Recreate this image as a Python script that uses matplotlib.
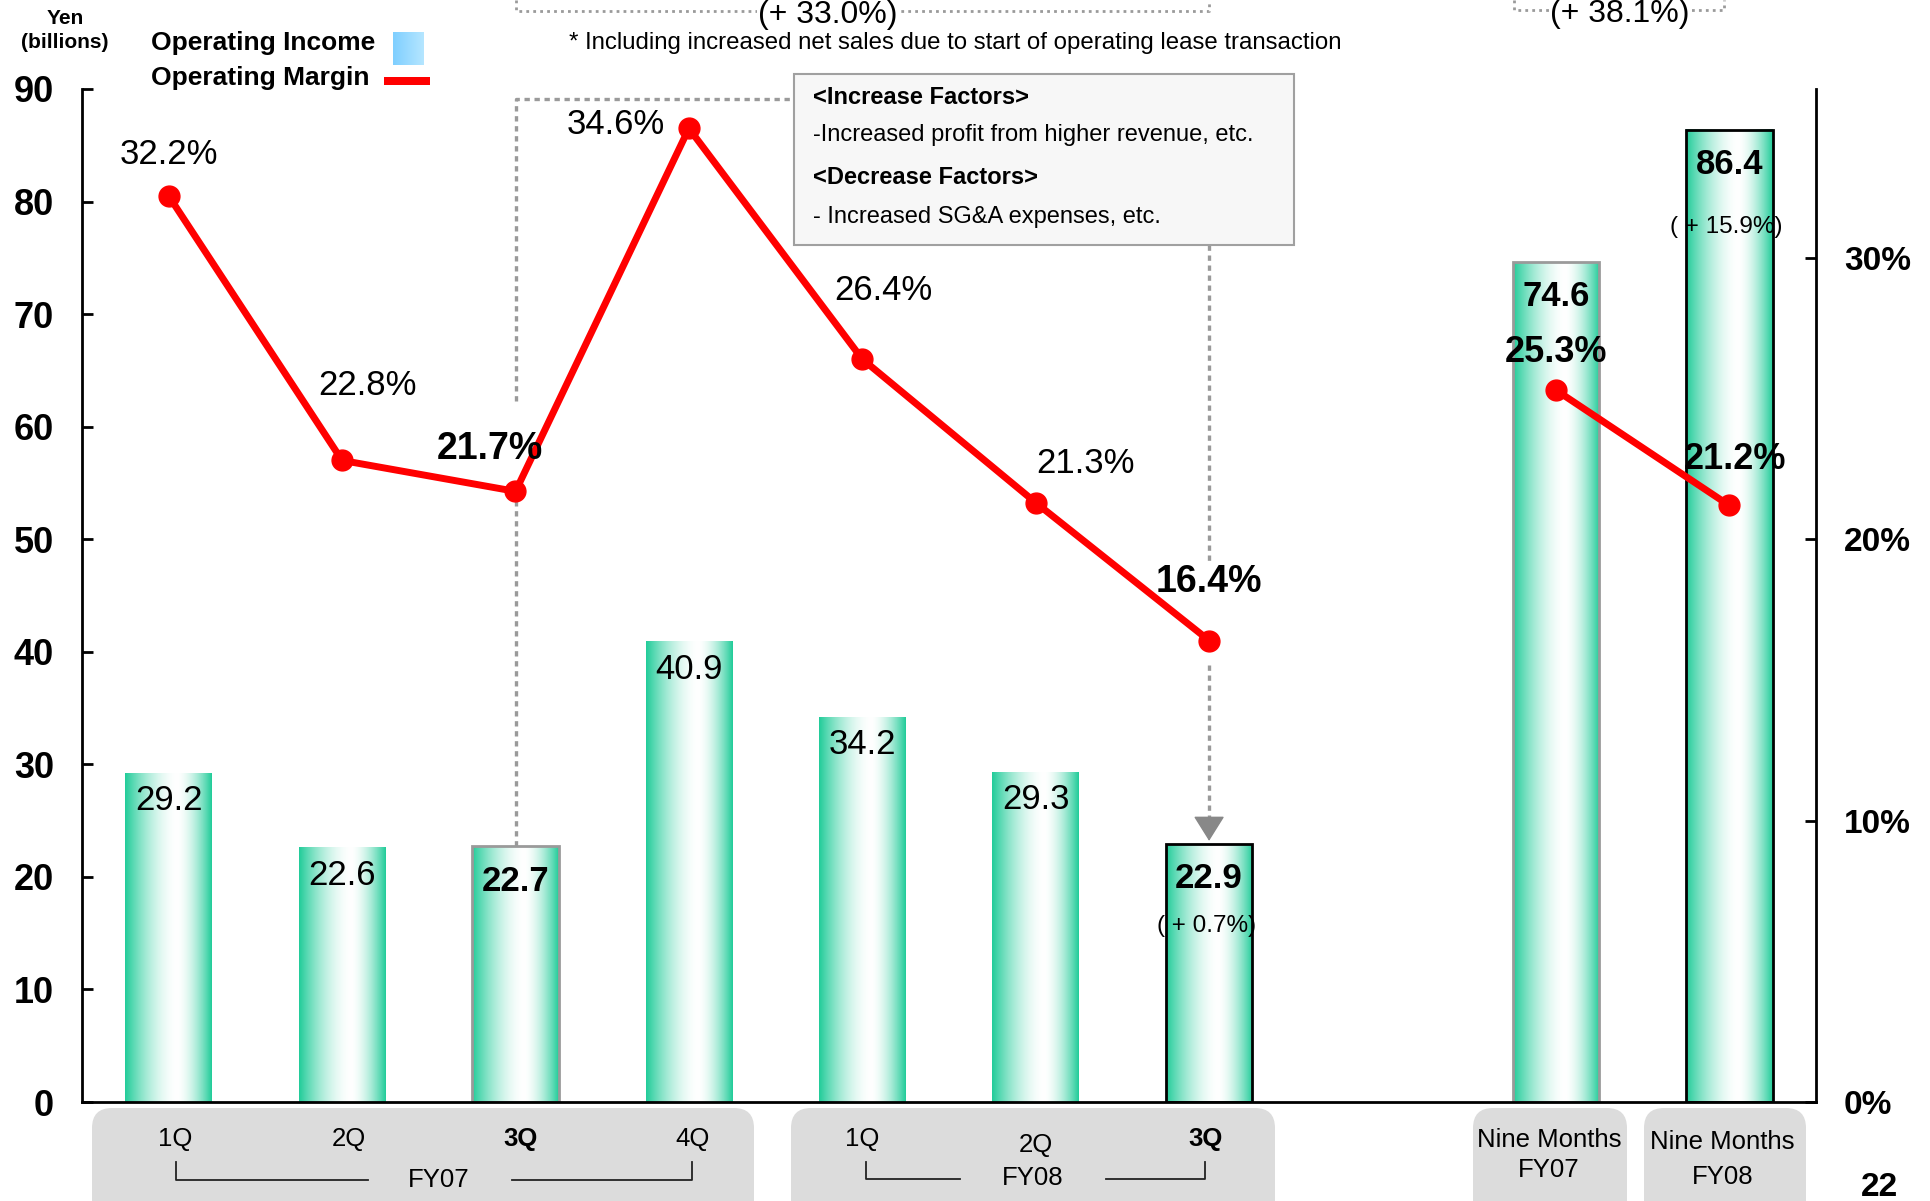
import numpy as np
import matplotlib.pyplot as plt
from matplotlib.patches import Rectangle, FancyBboxPatch
from matplotlib.lines import Line2D
from matplotlib import transforms

plt.rcParams['font.family'] = ['Liberation Sans', 'DejaVu Sans']

# ---- data ----
quarters = ['1Q', '2Q', '3Q', '4Q', '1Q', '2Q', '3Q']
nine_months = ['Nine Months', 'Nine Months']
nine_years = ['FY07', 'FY08']
xpos = [0, 1, 2, 3, 4, 5, 6, 8, 9]
income = [29.2, 22.6, 22.7, 40.9, 34.2, 29.3, 22.9, 74.6, 86.4]
margin = [32.2, 22.8, 21.7, 34.6, 26.4, 21.3, 16.4, 25.3, 21.2]
yoy_bars = [6, 8]
yoy_text = ['( + 0.7%)', '( + 15.9%)']
growth_text = ['(+ 33.0%)', '(+ 38.1%)']
increase = ['<Increase Factors>', '-Increased profit from higher revenue, etc.']
decrease = ['<Decrease Factors>', '- Increased SG&A expenses, etc.']
note = '* Including increased net sales due to start of operating lease transaction'

# ---- styles ----
bold_bars = [2, 6, 7, 8]
bold_margin = [2, 6, 7, 8]
edge_cols = ['none', 'none', '#9a9a9a', 'none', 'none', 'none', 'black', '#9a9a9a', 'black']
lab_off = [(0, 41), (25, 75), (-26, 42), (-73, 4), (21, 69), (50, 39), (0, 59), (0, 38), (6, 46)]
lab_size = [25, 25, 27, 25, 25, 25, 27, 26, 26]
yoy_off = [-59, -70]
q_dx = [0.04, 0.04, 0.03, 0.02, 0.0, 0.0, -0.02]
q_y = [1139, 1139, 1139, 1139, 1139, 1145, 1139]

W, H = 1930, 1201
fig = plt.figure(figsize=(W / 100, H / 100), dpi=100)
inch = fig.dpi_scale_trans


def P(x, y):
    # pixel position (top-left origin) -> inches
    return x / 100, (H - y) / 100


ax = fig.add_axes([82 / W, 1 - 1102 / H, (1816 - 82) / W, (1102 - 89) / H])
ax2 = ax.twinx()

# gradient bars
t = np.linspace(0, 1, 200)
peak = 0.6
d = np.where(t < peak, (peak - t) / peak, (t - peak) / (1 - peak))
wht = 1 - d ** 1.7
green = np.array([0.13, 0.80, 0.60])
img = (green[None, :] * (1 - wht[:, None]) + wht[:, None])[None, :, :]
bw = 0.5
for x, v in zip(xpos, income):
    ax.imshow(img, extent=(x - bw / 2, x + bw / 2, 0, v), aspect='auto',
              interpolation='bilinear', zorder=1.5)
ax.bar(xpos, income, bw, facecolor='none', edgecolor=edge_cols, linewidth=2, zorder=2)

for i, (x, v) in enumerate(zip(xpos, income)):
    b = i in bold_bars
    ax.annotate(f'{v:.1f}', (x, v), xytext=(0, -13 if b else -8), textcoords='offset points',
                ha='center', va='top', fontsize=25,
                fontweight='bold' if b else 'normal', zorder=4)
for k, i in enumerate(yoy_bars):
    ax.annotate(yoy_text[k], (xpos[i], income[i]), xytext=(-2, yoy_off[k]),
                textcoords='offset points', ha='center', va='center', fontsize=17.5, zorder=4)

# dotted guide lines
gcol = '#9a9a9a'
dots = (0, (1.6, 1.4))
m_left = margin[2] * 90 / 36
ax.plot([2, 2], [income[2], m_left], color=gcol, lw=2.4, ls=dots, zorder=1)
ax.plot([2, 2, 3.61], [62.3, 89.1, 89.1], color=gcol, lw=2.4, ls=dots, zorder=1, clip_on=False)
ax.plot([6, 6], [76.1, 48.1], color=gcol, lw=2.4, ls=dots, zorder=1)
ax.plot([6, 6], [38.8, income[6] + 2.2], color=gcol, lw=2.4, ls=dots, zorder=1)
ax.annotate('', xy=(6, income[6] + 0.3), xytext=(6, income[6] + 2.3),
            arrowprops=dict(arrowstyle='-|>,head_length=0.8,head_width=0.5', mutation_scale=20,
                            color='#888888', lw=1, shrinkA=0, shrinkB=0))

ax.set_xlim(-0.5, 9.5)
ax.set_ylim(0, 90)
ax.set_xticks([])
ax.set_yticks(range(0, 91, 10))
ax.tick_params(axis='y', direction='in', length=8, width=2, pad=20, labelsize=26)
for lb in ax.get_yticklabels():
    lb.set_fontweight('bold')
for s in ['top', 'right']:
    ax.spines[s].set_visible(False)
for s in ['left', 'bottom']:
    ax.spines[s].set_linewidth(2)

# margin line
ax2.plot(xpos[:7], margin[:7], color='#ff0000', lw=5, marker='o', ms=15, zorder=3)
ax2.plot(xpos[7:], margin[7:], color='#ff0000', lw=5, marker='o', ms=15, zorder=3)
for i, (x, m) in enumerate(zip(xpos, margin)):
    ax2.annotate(f'{m:.1f}%', (x, m), xytext=lab_off[i], textcoords='offset pixels',
                 ha='center', va='center', fontsize=lab_size[i],
                 fontweight='bold' if i in bold_margin else 'normal')
ax2.set_ylim(0, 36)
ax2.set_yticks([0, 10, 20, 30])
ax2.set_yticklabels(['0%', '10%', '20%', '30%'])
ax2.tick_params(axis='y', direction='in', length=8, width=2, pad=20, labelsize=24)
for lb in ax2.get_yticklabels():
    lb.set_fontweight('bold')
for s in ['top', 'left', 'bottom']:
    ax2.spines[s].set_visible(False)
ax2.spines['right'].set_linewidth(2)
ax2.set_xlim(-0.5, 9.5)

# growth brackets on top
blend = transforms.blended_transform_factory(ax.transData, inch)
tdots = (0, (1, 1.5))
for (x0, x1, tx, ty), s in zip([(2, 6, 3.8, 15), (7.76, 8.97, 8.37, 14)], growth_text):
    yy = P(0, ty - 4)[1]
    fig.add_artist(Line2D([x0, x0, x1, x1], [P(0, 0)[1], yy, yy, P(0, 0)[1]],
                          transform=blend, color=gcol, lw=2, ls=tdots))
    fig.text(tx, P(0, ty)[1], s, transform=blend, ha='center', va='center', fontsize=23,
             bbox=dict(fc='white', ec='none', pad=1))

fig.text(*P(955, 43), note, transform=inch, ha='center', va='center', fontsize=17.3)

# factors box
fig.add_artist(Rectangle(P(794, 245), 5.0, 1.71, transform=inch, fc='#f7f7f7',
                         ec='#a0a0a0', lw=1.5))
for (s, y), w in zip([(increase[0], 97), (increase[1], 135), (decrease[0], 177), (decrease[1], 217)],
                     ['bold', 'normal', 'bold', 'normal']):
    fig.text(*P(813, y), s, transform=inch, ha='left', va='center', fontsize=17, fontweight=w)

# axis titles / legend
fig.text(*P(65, 18), 'Yen', transform=inch, ha='center', va='center', fontsize=15, fontweight='bold')
fig.text(*P(65, 43), '(billions)', transform=inch, ha='center', va='center', fontsize=15, fontweight='bold')
fig.text(*P(151, 43), 'Operating Income', transform=inch, ha='left', va='center', fontsize=19, fontweight='bold')
fig.text(*P(151, 78), 'Operating Margin', transform=inch, ha='left', va='center', fontsize=19, fontweight='bold')
sw = fig.add_axes([393 / W, 1 - 65 / H, 31 / W, 33 / H])
sw.imshow(np.linspace(0, 1, 50)[None, :], cmap=plt.matplotlib.colors.LinearSegmentedColormap.from_list(
    'b', ['#7fcfff', '#b5e6ff']), aspect='auto')
sw.axis('off')
fig.add_artist(Rectangle(P(384, 85), 0.46, 0.08, transform=inch, fc='#ff0000', ec='none'))

# category panels
for x0, x1 in [(92, 754), (791, 1275), (1473, 1627), (1644, 1806)]:
    xb, yb = P(x0, 1225)
    fig.add_artist(FancyBboxPatch((xb, yb), (x1 - x0) / 100, (1225 - 1108) / 100,
                                  boxstyle='round,pad=0,rounding_size=0.2', transform=inch,
                                  fc='#dcdcdc', ec='none'))
for i, (q, yq) in enumerate(zip(quarters, q_y)):
    fig.text(xpos[i] + q_dx[i], P(0, yq)[1], q, transform=blend, ha='center', va='center',
             fontsize=18.5, fontweight='bold' if q == '3Q' else 'normal')
fig.text(*P(439, 1180), 'FY07', transform=inch, ha='center', va='center', fontsize=18.5)
fig.text(*P(1033, 1178), 'FY08', transform=inch, ha='center', va='center', fontsize=18.5)
for k, (y1, y2) in enumerate([(1140, 1170), (1142, 1177)]):
    fig.text(xpos[7 + k] - 0.04, P(0, y1)[1], nine_months[k], transform=blend, ha='center',
             va='center', fontsize=18.5)
    fig.text(xpos[7 + k] - 0.04, P(0, y2)[1], nine_years[k], transform=blend, ha='center',
             va='center', fontsize=18.5)
for pts in [[(176, 1162), (176, 1180), (368, 1180)], [(512, 1180), (692, 1180), (692, 1162)],
            [(866, 1162), (866, 1179), (960, 1179)], [(1106, 1179), (1205, 1179), (1205, 1162)]]:
    xs, ys = zip(*[P(a, b) for a, b in pts])
    fig.add_artist(Line2D(xs, ys, transform=inch, color='#222222', lw=1.3))

fig.text(*P(1880, 1188), '22', transform=inch, ha='center', va='center', fontsize=24, fontweight='bold')

fig.savefig('out.png', dpi=100)
